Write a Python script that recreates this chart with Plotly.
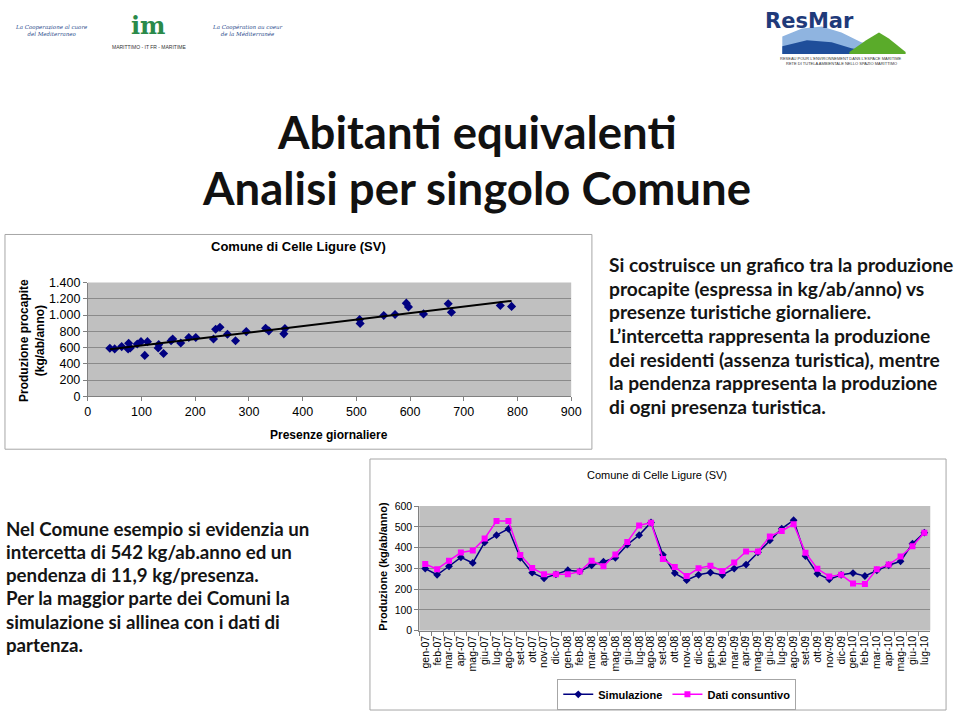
import plotly.graph_objects as go
import numpy as np

# ---------------- data ----------------
presenze = [41, 50, 63, 76, 75, 79, 92, 99, 106, 111, 131, 132, 141, 155, 158, 173, 188, 201,
            234, 238, 246, 260, 275, 295, 331, 337, 365, 367, 506, 507, 551, 572, 593, 597,
            625, 671, 677, 768, 789]
procapite = [591, 583, 611, 652, 583, 595, 644, 672, 503, 672, 595, 636, 527, 684, 704, 656, 724, 724,
             704, 825, 849, 764, 684, 796, 837, 805, 768, 833, 945, 897, 994, 1006, 1146, 1100,
             1014, 1138, 1034, 1118, 1106]

mesi = ["gen-07", "feb-07", "mar-07", "apr-07", "mag-07", "giu-07", "lug-07", "ago-07", "set-07", "ott-07", "nov-07", "dic-07",
        "gen-08", "feb-08", "mar-08", "apr-08", "mag-08", "giu-08", "lug-08", "ago-08", "set-08", "ott-08", "nov-08", "dic-08",
        "gen-09", "feb-09", "mar-09", "apr-09", "mag-09", "giu-09", "lug-09", "ago-09", "set-09", "ott-09", "nov-09", "dic-09",
        "gen-10", "feb-10", "mar-10", "apr-10", "mag-10", "giu-10", "lug-10"]
simulazione = [299, 269, 310, 353, 326, 425, 460, 490, 350, 279, 252, 271,
               291, 285, 315, 332, 351, 414, 460, 521, 365, 277, 243, 269,
               280, 268, 299, 318, 377, 435, 491, 532, 359, 274, 247, 269,
               277, 263, 290, 315, 334, 419, 472]
dati_consuntivo = [321, 296, 337, 376, 386, 444, 528, 528, 364, 302, 271, 271,
                   271, 285, 337, 310, 367, 427, 507, 520, 345, 307, 263, 301,
                   312, 287, 328, 381, 381, 454, 480, 513, 375, 298, 261, 269,
                   227, 224, 296, 318, 357, 406, 472]

top_ticks_x = [0, 100, 200, 300, 400, 500, 600, 700, 800, 900]
top_ticks_y = [0, 200, 400, 600, 800, 1000, 1200, 1400]
bottom_ticks_y = [0, 100, 200, 300, 400, 500, 600]

right_text = ["Si costruisce un grafico tra la produzione",
              "procapite (espressa in kg/ab/anno) vs",
              "presenze turistiche giornaliere.",
              "L’intercetta rappresenta la produzione",
              "dei residenti (assenza turistica), mentre",
              "la pendenza rappresenta la produzione",
              "di ogni presenza turistica."]
left_text = ["Nel Comune esempio si evidenzia un",
             "intercetta di 542 kg/ab.anno ed un",
             "pendenza di 11,9 kg/presenza.",
             "Per la maggior parte dei Comuni la",
             "simulazione si allinea con i dati di",
             "partenza."]

# ---------------- helpers ----------------
W, H = 960, 718
def px(x):
    return x / W
def py(y):
    return 1 - y / H

ARIAL = "Liberation Sans, Arial, sans-serif"
BODY = "Lato, Noto Sans, sans-serif"
NAVY = "#000080"
MAG = "#ff00ff"
GRID = "#8a8a8a"
PLOTBG = "#c0c0c0"

fig = go.Figure()

# trend line via least squares fit
slope, intercept = np.polyfit(presenze, procapite, 1)
xt = np.array([min(presenze), max(presenze)])
fig.add_trace(go.Scatter(x=presenze, y=procapite, mode="markers",
                         marker=dict(symbol="diamond", size=7, color=NAVY),
                         showlegend=False, xaxis="x", yaxis="y", hoverinfo="skip"))
fig.add_trace(go.Scatter(x=xt, y=intercept + slope * xt, mode="lines",
                         line=dict(color="black", width=2),
                         showlegend=False, xaxis="x", yaxis="y", hoverinfo="skip"))

fig.add_trace(go.Scatter(x=mesi, y=simulazione, mode="lines+markers", name="<b>Simulazione</b>",
                         line=dict(color=NAVY, width=1.5),
                         marker=dict(symbol="diamond", size=6, color=NAVY),
                         xaxis="x2", yaxis="y2"))
fig.add_trace(go.Scatter(x=mesi, y=dati_consuntivo, mode="lines+markers", name="<b>Dati consuntivo</b>",
                         line=dict(color=MAG, width=1.5),
                         marker=dict(symbol="square", size=6, color=MAG),
                         xaxis="x2", yaxis="y2"))

shapes = []
# plot area backgrounds
shapes.append(dict(type="rect", xref="paper", yref="paper", x0=px(86), x1=px(576), y0=py(397), y1=py(281),
                   fillcolor=PLOTBG, line=dict(width=0), layer="below"))
shapes.append(dict(type="rect", xref="paper", yref="paper", x0=px(422), x1=px(940), y0=py(636), y1=py(509),
                   fillcolor=PLOTBG, line=dict(width=0), layer="below"))
# chart frames
shapes.append(dict(type="rect", xref="paper", yref="paper", x0=px(2), x1=px(597), y0=py(451), y1=py(232),
                   line=dict(color="#a6a6a6", width=1), layer="below"))
shapes.append(dict(type="rect", xref="paper", yref="paper", x0=px(372), x1=px(956), y0=py(717), y1=py(461),
                   line=dict(color="#a6a6a6", width=1), layer="below"))

# ResMar logo decoration (wave + hill)
def path(points):
    return "M " + " L ".join(f"{px(x)},{py(y)}" for x, y in points) + " Z"
shapes.append(dict(type="path", xref="paper", yref="paper",
                   path=path([(790, 30), (810, 22), (830, 20), (850, 26), (870, 36), (890, 40), (905, 44), (912, 48), (790, 48)]),
                   fillcolor="#8fb4e0", line=dict(width=0)))
shapes.append(dict(type="path", xref="paper", yref="paper",
                   path=path([(790, 40), (815, 34), (840, 36), (860, 42), (880, 46), (912, 48), (790, 48)]),
                   fillcolor="#1f4e9a", line=dict(width=0)))
shapes.append(dict(type="path", xref="paper", yref="paper",
                   path=path([(858, 46), (875, 34), (888, 26), (898, 32), (915, 46), (915, 48), (858, 48)]),
                   fillcolor="#5aab2a", line=dict(width=0)))

annotations = []
def ann(text, x, y, size, color="black", family=ARIAL, xanchor="center", yanchor="middle", angle=0):
    annotations.append(dict(text=text, x=px(x), y=py(y), xref="paper", yref="paper", showarrow=False,
                            font=dict(size=size, color=color, family=family),
                            xanchor=xanchor, yanchor=yanchor, textangle=angle))

# slide titles
ann("<b>Abitanti equivalenti</b>", 480, 127, 45.5, color="#111111", family=BODY)
ann("<b>Analisi per singolo Comune</b>", 480, 184, 45.5, color="#111111", family=BODY)

# right and left body text
for i, t in enumerate(right_text):
    ann("<b>" + t + "</b>", 612, 263 + 24 * i, 19.2, color="#141414", family=BODY, xanchor="left")
for i, t in enumerate(left_text):
    ann("<b>" + t + "</b>", 1, 532 + 23.7 * i, 18.7, color="#141414", family=BODY, xanchor="left")

# chart titles / axis titles
ann("<b>Comune di Celle Ligure (SV)</b>", 300, 244, 13)
ann("<b>Produzione procapite<br>(kg/ab/anno)</b>", 30, 340, 12, angle=-90)
ann("<b>Presenze giornaliere</b>", 330, 437, 12)
ann("Comune di Celle Ligure (SV)", 663, 477, 11)
ann("<b>Produzione (kg/ab/anno)</b>", 385, 570, 11, angle=-90)

# logos (text approximations)
ann("<i>La Cooperazione al cuore<br>del Mediterraneo</i>", 88, 24, 5.5, color="#2b4c8c", family="DejaVu Serif, serif", xanchor="right")
ann("<i>La Coopération au coeur<br>de la Méditerranée</i>", 210, 24, 5.5, color="#2b4c8c", family="DejaVu Serif, serif", xanchor="left")
ann("<b>im</b>", 148, 19, 24, color="#2a8a4a", family="DejaVu Serif, serif")
ann("MARITTIMO - IT FR - MARITIME", 148, 41, 5, color="#333333")
ann("<b>ResMar</b>", 818, 14, 21, color="#1f3a7a", family="DejaVu Sans, sans-serif")
ann("RESEAU POUR L'ENVIRONNEMENT DANS L'ESPACE MARITIME", 850, 53, 4, color="#333333")
ann("RETE DI TUTELA AMBIENTALE NELLO SPAZIO MARITTIMO", 850, 58, 4, color="#333333")

fig.update_layout(
    width=W, height=H, margin=dict(l=0, r=0, t=0, b=0),
    paper_bgcolor="white", plot_bgcolor="rgba(0,0,0,0)",
    separators=",.",
    font=dict(family=ARIAL, color="black"),
    shapes=shapes, annotations=annotations,
    xaxis=dict(domain=[px(86), px(576)], anchor="y", range=[0, 900], tickvals=top_ticks_x,
               showgrid=False, zeroline=False, showline=True, linecolor="#808080", linewidth=1,
               ticks="outside", ticklen=4, tickcolor="#808080", tickfont=dict(size=12.5), fixedrange=True),
    yaxis=dict(domain=[py(397), py(281)], anchor="x", range=[0, 1400], tickvals=top_ticks_y,
               tickformat=",.0f", showgrid=True, gridcolor=GRID, gridwidth=1, zeroline=False,
               showline=True, linecolor="#808080", linewidth=1, ticks="outside", ticklen=4,
               tickcolor="#808080", tickfont=dict(size=12.5), fixedrange=True),
    xaxis2=dict(domain=[px(422), px(940)], anchor="y2", type="category", range=[-0.5, len(mesi) - 0.5],
                tickmode="array", tickvals=mesi, ticktext=mesi,
                tickangle=-90, tickfont=dict(size=10.5), showgrid=False, zeroline=False, showline=True,
                linecolor="#808080", ticks="outside", ticklen=4, tickcolor="#808080", tickson="boundaries",
                fixedrange=True),
    yaxis2=dict(domain=[py(636), py(509)], anchor="x2", range=[0, 600], tickvals=bottom_ticks_y,
                showgrid=True, gridcolor=GRID, gridwidth=1, zeroline=False, showline=True,
                linecolor="#808080", ticks="outside", ticklen=4, tickcolor="#808080",
                tickfont=dict(size=10.5), fixedrange=True),
    legend=dict(orientation="h", x=px(683), y=py(701), xanchor="center", yanchor="middle",
                bordercolor="#a6a6a6", borderwidth=1, bgcolor="white",
                font=dict(size=11, family=ARIAL), itemwidth=30, tracegroupgap=0),
)

fig.write_html("out.html")
